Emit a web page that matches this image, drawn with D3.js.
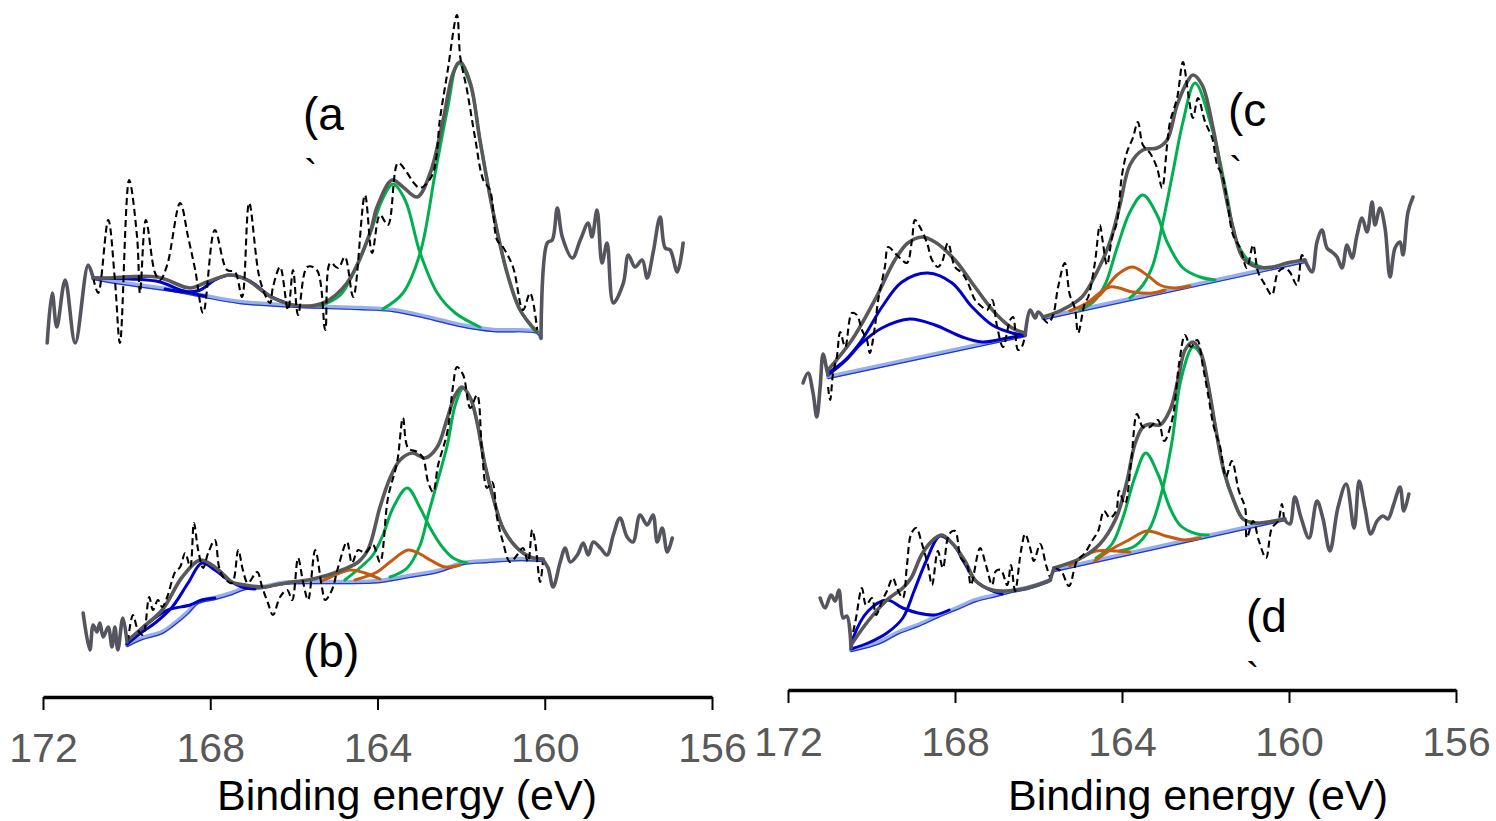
<!DOCTYPE html>
<html><head><meta charset="utf-8">
<script src="https://cdn.jsdelivr.net/npm/d3@7"></script>
<style>body{margin:0;background:#fff}svg{display:block}</style>
</head><body><svg id="chart" width="1496" height="821"></svg>
<script>
// ---------- axis / labels ----------
const tickValues = [172, 168, 164, 160, 156];
const axisTitle = "Binding energy (eV)";
const panelLabels = ["(a", "(b)", "(c", "(d"];

// ---------- spectrum (a) : [binding energy eV, intensity a.u.] ----------
const aEdgeLeft = [[171.90,357],[171.78,407],[171.67,373],[171.47,420],[171.23,357],[170.92,435],[170.80,422]];
const aRaw = [[170.80,422],[170.68,407],[170.44,480],[170.28,420],[170.16,357],[169.94,520],[169.75,463],[169.68,407],[169.54,480],[169.32,427],[169.20,420],[169.03,435],[168.72,497],[168.53,463],[168.36,430],[168.17,387],[167.89,470],[167.60,430],[167.41,428],[167.24,403],[167.07,497],[166.81,420],[166.57,397],[166.50,413],[166.33,433],[166.14,390],[166.02,430],[165.90,385],[165.68,433],[165.45,430],[165.25,370],[165.13,437],[164.94,432],[164.78,443],[164.58,403],[164.30,505],[164.13,447],[163.94,485],[163.75,475],[163.51,537],[163.29,527],[163.15,518],[162.98,512],[162.69,525],[162.50,583],[162.33,627],[162.10,685],[162.02,643],[161.86,610],[161.67,563],[161.47,520],[161.31,510],[161.14,460],[161.00,453],[160.76,433],[160.52,390],[160.35,407],[160.18,370]];
const aBackground = [[170.80,422],[170.09,417],[168.89,410],[168.24,405],[167.29,398],[165.85,394],[164.42,392],[163.63,390],[162.81,383],[162.02,375],[161.23,370],[160.18,368],[160.09,362]];
const aEnvelope = [[170.80,422],[170.47,422],[169.27,423],[168.48,412],[168.08,418],[167.53,425],[167.12,420],[166.50,402],[165.85,394],[165.30,397],[164.73,417],[164.18,467],[164.01,493],[163.65,520],[163.39,513],[163.05,503],[162.74,527],[162.43,580],[162.19,627],[162.02,638],[161.78,617],[161.55,560],[161.23,487],[160.90,427],[160.59,390],[160.18,368]];
const aGreen1 = [[165.37,394],[164.89,405],[164.54,430],[164.18,466],[163.89,500],[163.63,516],[163.34,500],[162.98,447],[162.57,407],[162.14,387],[161.55,373]];
const aGreen2 = [[163.87,391],[163.39,407],[162.98,447],[162.62,527],[162.33,590],[162.07,637],[161.78,615],[161.55,560],[161.23,487],[160.90,427],[160.59,390],[160.23,369]];
const aBlue1 = [[170.80,422],[169.92,421],[169.20,418],[168.72,410],[168.36,406],[168.12,404]];
const aBlue2 = [[169.08,411],[168.60,408],[168.24,410],[167.89,420],[167.53,425],[167.05,419],[166.57,404],[166.09,396]];
const aEdgeRight = [[160.09,362],[159.94,457],[159.82,460],[159.70,492],[159.58,463],[159.34,442],[159.15,460],[158.96,477],[158.87,463],[158.75,490],[158.63,437],[158.51,457],[158.36,397],[158.12,417],[158.00,445],[157.84,433],[157.67,440],[157.55,422],[157.41,447],[157.24,483],[157.12,452],[157.00,450],[156.83,428],[156.69,457]];

// ---------- spectrum (b) ----------
const bEdgeLeft = [[171.04,87],[170.88,50],[170.80,75],[170.71,68],[170.64,77],[170.56,63],[170.44,73],[170.35,53],[170.28,73],[170.21,50],[170.09,82],[169.99,58]];
const bRaw = [[169.97,58],[169.85,85],[169.73,70],[169.61,65],[169.46,103],[169.37,90],[169.25,100],[169.15,93],[169.03,103],[168.91,120],[168.84,128],[168.72,133],[168.60,147],[168.48,133],[168.39,177],[168.29,150],[168.17,132],[168.05,147],[167.89,160],[167.79,133],[167.69,123],[167.48,117],[167.33,150],[167.22,130],[167.10,117],[166.88,128],[166.76,113],[166.62,97],[166.50,85],[166.33,103],[166.16,110],[166.04,100],[165.90,142],[165.78,118],[165.66,100],[165.49,150],[165.33,113],[165.25,100],[165.09,110],[164.94,133],[164.73,158],[164.61,137],[164.46,150],[164.30,147],[164.11,155],[163.94,138],[163.75,202],[163.53,238],[163.39,282],[163.27,252],[163.05,248],[162.91,242],[162.79,218],[162.67,208],[162.55,235],[162.33,268],[162.19,315],[162.10,333],[161.95,325],[161.78,292],[161.62,305],[161.50,248],[161.38,212],[161.26,218],[161.14,182],[161.00,158],[160.83,138],[160.66,145],[160.52,152],[160.40,138],[160.30,170],[160.23,158],[160.11,118],[160.04,140]];
const bBackground = [[169.99,55],[169.63,62],[169.15,68],[168.84,77],[168.53,88],[168.29,98],[167.89,102],[167.48,107],[167.17,112],[166.76,113],[166.28,117],[165.66,118],[164.85,118],[163.94,119],[163.39,123],[162.57,129],[161.95,137],[161.38,139],[160.59,141],[160.04,140]];
const bEnvelope = [[169.99,59],[169.63,72],[169.15,90],[168.67,123],[168.24,140],[167.96,135],[167.72,127],[167.48,118],[167.17,115],[166.69,113],[166.45,115],[166.04,118],[165.66,120],[165.18,125],[164.85,130],[164.46,138],[164.22,151],[163.94,193],[163.70,222],[163.46,240],[163.17,247],[162.86,242],[162.57,253],[162.33,282],[162.14,305],[161.98,313],[161.78,302],[161.62,278],[161.43,235],[161.23,202],[161.00,172],[160.66,152],[160.35,143],[160.04,141]];
const bGreen1 = [[164.78,120],[164.37,134],[164.11,145],[163.87,165],[163.63,192],[163.29,212],[162.98,192],[162.74,172],[162.45,153],[162.19,142],[161.86,137]];
const bGreen2 = [[163.70,123],[163.29,132],[162.98,155],[162.79,185],[162.57,218],[162.33,255],[162.14,295],[161.95,312],[161.78,302],[161.62,278],[161.43,235],[161.23,202],[161.00,172],[160.66,152],[160.35,143]];
const bOrange1 = [[164.54,120],[164.01,128],[163.70,138],[163.27,150],[162.98,146],[162.74,140],[162.38,133],[162.02,135]];
const bOrange2 = [[165.33,119],[165.01,125],[164.66,130],[164.30,127],[163.94,121]];
const bBlue1 = [[169.99,56],[169.63,68],[169.32,77],[168.91,93],[168.53,117],[168.20,137],[167.89,130],[167.57,120],[167.24,113],[166.93,111]];
const bBlue2 = [[169.99,56],[169.49,77],[169.01,90],[168.48,95],[168.20,100],[167.89,102]];
const bEdgeRight = [[160.04,140],[159.92,132],[159.80,113],[159.63,138],[159.51,152],[159.39,138],[159.22,145],[159.08,157],[158.96,145],[158.84,158],[158.67,152],[158.51,145],[158.36,165],[158.20,182],[158.03,163],[157.89,158],[157.72,185],[157.55,175],[157.41,185],[157.31,158],[157.19,172],[157.07,148],[156.95,162]];

// ---------- spectrum (c) ----------
const cEdgeLeft = [[171.64,317],[171.52,327],[171.40,307],[171.31,283],[171.23,313],[171.16,346],[171.07,330],[171.04,325]];
const cRaw1 = [[171.04,313],[170.99,300],[170.92,327],[170.83,343],[170.75,368],[170.63,353],[170.47,387],[170.35,385],[170.23,370],[170.11,360],[170.04,347],[169.92,373],[169.84,400],[169.68,433],[169.60,453],[169.44,447],[169.27,440],[169.15,437],[169.03,460],[168.96,480],[168.84,473],[168.67,457],[168.55,440],[168.41,433],[168.31,438],[168.17,457],[168.00,433],[167.83,427],[167.69,417],[167.52,400],[167.35,393],[167.23,390],[167.11,400],[166.99,373],[166.85,353],[166.68,380],[166.61,383],[166.49,350],[166.40,353],[166.32,365]];
const cBackground1 = [[171.04,323],[166.32,365]];
const cEnvelope1 = [[171.04,330],[170.47,360],[169.92,400],[169.44,440],[169.13,457],[168.79,463],[168.48,458],[168.00,440],[167.52,413],[167.04,387],[166.63,372],[166.32,367]];
const cBlue1 = [[171.04,327],[170.63,340],[170.23,360],[169.75,393],[169.27,418],[168.65,427],[168.07,417],[167.59,393],[167.11,375],[166.63,367],[166.32,365]];
const cBlue2 = [[171.04,325],[170.63,339],[170.23,357],[169.75,372],[169.08,381],[168.48,375],[167.83,363],[167.35,358],[166.73,362],[166.32,365]];
const cMiddle = [[166.32,365],[166.20,390],[166.08,382],[166.01,388],[165.89,383]];
const cRaw2 = [[165.89,382],[165.77,377],[165.65,385],[165.53,413],[165.37,437],[165.25,405],[165.13,392],[165.05,367],[164.89,397],[164.81,403],[164.65,437],[164.53,475],[164.46,458],[164.36,435],[164.24,462],[164.12,478],[164.00,525],[163.88,548],[163.74,562],[163.62,578],[163.50,555],[163.33,547],[163.16,532],[163.04,512],[162.92,555],[162.85,578],[162.68,602],[162.54,638],[162.42,608],[162.30,582],[162.18,602],[162.01,578],[161.84,562],[161.72,535],[161.60,525],[161.49,502],[161.34,465],[161.17,452],[161.01,432],[160.86,455],[160.74,428],[160.57,415],[160.41,405],[160.26,428],[160.10,432],[159.98,428],[159.81,415],[159.69,445],[159.62,440]];
const cBackground2 = [[165.89,382],[159.62,439]];
const cEnvelope2 = [[165.89,383],[165.44,390],[164.96,403],[164.60,428],[164.29,458],[164.05,495],[163.81,535],[163.50,550],[163.16,552],[162.92,560],[162.68,595],[162.44,618],[162.30,625],[162.08,615],[161.82,572],[161.58,518],[161.34,472],[161.10,442],[160.77,433],[160.38,433],[160.05,437],[159.62,440]];
const cGreen1 = [[165.01,390],[164.69,398],[164.41,415],[164.12,452],[163.81,488],[163.50,505],[163.16,485],[162.92,458],[162.54,432],[162.13,423],[161.77,420]];
const cGreen2 = [[163.81,402],[163.50,415],[163.26,435],[163.02,478],[162.78,528],[162.54,578],[162.25,617],[161.82,568],[161.49,505],[161.25,458],[160.93,438],[160.57,432]];
const cOrange1 = [[165.01,392],[164.53,405],[164.12,425],[163.76,433],[163.40,425],[163.09,415],[162.73,412],[162.37,414]];
const cOrange2 = [[165.25,389],[164.84,397],[164.29,413],[163.74,408],[163.26,407],[162.97,410]];
const cEdgeRight = [[159.62,440],[159.45,428],[159.33,458],[159.21,470],[159.09,452],[158.97,448],[158.85,443],[158.73,432],[158.61,455],[158.49,442],[158.37,465],[158.25,482],[158.13,468],[158.01,498],[157.94,475],[157.82,492],[157.70,472],[157.58,423],[157.46,452],[157.34,458],[157.27,445],[157.15,488],[157.03,503]];

// ---------- spectrum (d) ----------
const dEdgeLeft = [[171.23,102],[171.11,92],[170.97,105],[170.87,99],[170.78,110],[170.68,82],[170.59,84],[170.49,52]];
const dRaw1 = [[170.44,68],[170.37,82],[170.23,112],[170.13,95],[169.99,102],[169.89,85],[169.75,99],[169.63,109],[169.49,122],[169.39,112],[169.25,102],[169.15,135],[169.05,166],[168.93,172],[168.79,156],[168.65,135],[168.55,115],[168.41,149],[168.29,132],[168.14,166],[168.00,169],[167.86,142],[167.71,135],[167.62,115],[167.40,152],[167.26,135],[167.11,115],[167.02,129],[166.90,130],[166.75,115],[166.66,135],[166.56,109],[166.42,149],[166.32,166],[166.20,152],[166.11,139],[165.96,156],[165.82,135],[165.72,122]];
const dBackground1 = [[170.49,50],[169.80,58],[169.34,68],[168.89,75],[168.41,84],[167.95,92],[167.50,100],[167.02,105],[166.66,109],[166.28,112],[165.77,119],[165.72,120]];
const dEnvelope1 = [[170.49,55],[170.08,79],[169.63,100],[169.25,112],[169.05,122],[168.79,146],[168.50,161],[168.31,165],[168.05,156],[167.76,139],[167.50,119],[167.11,110],[166.75,109],[166.28,112],[165.77,119],[165.72,120]];
const dBlue1 = [[170.49,51],[170.08,57],[169.63,67],[169.25,82],[168.98,109],[168.69,139],[168.36,164],[168.05,156],[167.76,136],[167.50,119],[167.11,109],[166.87,106]];
const dBlue2 = [[170.49,52],[170.44,62],[170.08,89],[169.63,100],[169.25,92],[168.89,87],[168.50,85],[168.14,90]];
const dMiddle = [[165.72,120],[165.63,132]];
const dRaw2 = [[165.63,132],[165.46,129],[165.27,114],[165.08,139],[164.89,147],[164.72,159],[164.57,169],[164.43,189],[164.29,182],[164.14,189],[164.07,209],[163.93,196],[163.78,239],[163.64,286],[163.50,273],[163.33,273],[163.14,280],[162.99,259],[162.80,280],[162.63,337],[162.49,365],[162.35,353],[162.20,360],[162.06,333],[161.94,306],[161.80,273],[161.65,253],[161.51,223],[161.37,239],[161.20,209],[161.05,192],[161.01,162],[160.86,179],[160.72,159],[160.55,142],[160.41,172],[160.26,179],[160.17,196],[160.12,181]];
const dBackground2 = [[165.63,130],[160.10,181]];
const dEnvelope2 = [[165.63,132],[164.98,142],[164.53,156],[164.14,182],[163.88,219],[163.69,256],[163.50,273],[163.33,276],[163.09,275],[162.85,290],[162.66,320],[162.49,350],[162.30,358],[162.11,347],[161.94,316],[161.75,270],[161.56,229],[161.32,199],[161.10,181],[160.81,177],[160.36,179],[160.10,181]];
const dGreen1 = [[164.62,142],[164.24,156],[163.98,182],[163.69,223],[163.43,247],[163.14,226],[162.85,192],[162.59,174],[162.20,166],[161.94,165]];
const dGreen2 = [[164.07,149],[163.69,154],[163.33,172],[163.04,209],[162.80,259],[162.59,320],[162.30,353],[162.11,345],[161.94,315],[161.75,270],[161.56,229],[161.32,199],[161.10,181],[160.81,177]];
const dOrange1 = [[164.65,139],[164.24,151],[163.88,159],[163.40,169],[162.95,164],[162.49,160],[162.13,162]];
const dOrange2 = [[165.25,134],[164.98,142],[164.62,149],[164.14,149],[163.81,148]];
const dEdgeRight = [[160.12,181],[159.98,176],[159.86,203],[159.71,182],[159.52,162],[159.33,199],[159.19,182],[159.02,149],[158.83,192],[158.63,216],[158.44,172],[158.32,219],[158.18,192],[158.04,166],[157.89,179],[157.75,184],[157.63,181],[157.49,196],[157.34,213],[157.25,189],[157.13,206]];

// ---------- drawing ----------
const W = 1496, H = 821;
const FONT = "'Liberation Sans', Arial, Helvetica, sans-serif";
const svg = d3.select("#chart");
svg.append("rect").attr("width", W).attr("height", H).attr("fill", "#fff");

const yScale = d3.scaleLinear().domain([0, 700]).range([700, 0]);
const xLeft = d3.scaleLinear().domain([172, 156]).range([43, 712]);
const xRight = d3.scaleLinear().domain([172, 156]).range([788, 1456]);

const colors = { envelope: "#595959", edge: "#55555f", green: "#00b050", orange: "#c55a11", blue: "#0000cc", bgBand: "#99b0e4", bgLine: "#2236d0", raw: "#000" };

const spectra = [
  { x: xLeft, edges: [aEdgeLeft, aEdgeRight], raw: [aRaw], bg: [aBackground], env: [aEnvelope], green: [aGreen1, aGreen2], orange: [], blue: [aBlue1, aBlue2] },
  { x: xLeft, edges: [bEdgeLeft, bEdgeRight], raw: [bRaw], bg: [bBackground], env: [bEnvelope], green: [bGreen1, bGreen2], orange: [bOrange1, bOrange2], blue: [bBlue1, bBlue2] },
  { x: xRight, edges: [cEdgeLeft, cMiddle, cEdgeRight], raw: [cRaw1, cRaw2], bg: [cBackground1, cBackground2], env: [cEnvelope1, cEnvelope2], green: [cGreen1, cGreen2], orange: [cOrange1, cOrange2], blue: [cBlue1, cBlue2] },
  { x: xRight, edges: [dEdgeLeft, dMiddle, dEdgeRight], raw: [dRaw1, dRaw2], bg: [dBackground1, dBackground2], env: [dEnvelope1, dEnvelope2], green: [dGreen1, dGreen2], orange: [dOrange1, dOrange2], blue: [dBlue1, dBlue2] }
];

spectra.forEach(s => {
  const g = svg.append("g");
  const smooth = d3.line().x(d => s.x(d[0])).y(d => yScale(d[1])).curve(d3.curveCatmullRom.alpha(0.5));
  const straight = d3.line().x(d => s.x(d[0])).y(d => yScale(d[1]));
  const path = (data, gen, color, w, extra) => {
    const p = g.append("path").attr("d", gen(data)).attr("fill", "none").attr("stroke", color)
      .attr("stroke-width", w).attr("stroke-linejoin", "round").attr("stroke-linecap", "round");
    if (extra) extra(p);
    return p;
  };
  s.bg.forEach(b => {
    const gen = b.length > 2 ? smooth : straight;
    path(b, gen, colors.bgBand, 4.5);
    path(b, gen, colors.bgLine, 1.2, p => p.attr("transform", "translate(0,1.6)"));
  });
  s.green.forEach(c => path(c, smooth, colors.green, 3));
  s.orange.forEach(c => path(c, smooth, colors.orange, 3));
  s.blue.forEach(c => path(c, smooth, colors.blue, 3));
  s.env.forEach(c => path(c, smooth, colors.envelope, 3.6));
  s.raw.forEach(c => path(c, smooth, colors.raw, 2.1, p => p.attr("stroke-dasharray", "7,4").attr("stroke-linecap", "butt")));
  s.edges.forEach(c => path(c, smooth, colors.edge, 3.6));
});

// axes
function drawAxis(x, y, pad) {
  const ax = d3.axisBottom(x).tickValues(tickValues).tickSize(13).tickSizeOuter(0).tickPadding(pad).tickFormat(d3.format("d"));
  const g = svg.append("g").attr("transform", `translate(0,${y})`).call(ax);
  g.select(".domain").attr("stroke", "#000").attr("stroke-width", 3.5);
  g.selectAll(".tick line").attr("stroke", "#000").attr("stroke-width", 2);
  g.selectAll(".tick text").attr("fill", "#595959").style("font-family", FONT).style("font-size", "41px");
}
drawAxis(xLeft, 697, 23);
drawAxis(xRight, 690, 24);

svg.append("text").attr("x", 407).attr("y", 810).attr("text-anchor", "middle")
  .style("font-family", FONT).style("font-size", "43px").attr("fill", "#000").text(axisTitle);
svg.append("text").attr("x", 1198).attr("y", 810).attr("text-anchor", "middle")
  .style("font-family", FONT).style("font-size", "43px").attr("fill", "#000").text(axisTitle);

// panel labels
const labelPos = [[303, 130], [303, 667], [1228, 126], [1246, 632]];
panelLabels.forEach((t, i) => {
  svg.append("text").attr("x", labelPos[i][0]).attr("y", labelPos[i][1])
    .style("font-family", FONT).style("font-size", "46px").attr("fill", "#000").text(t);
});
const markPos = [[304, 188], [1229, 185], [1246, 691]];
markPos.forEach(p => {
  svg.append("text").attr("x", p[0]).attr("y", p[1]).style("font-family", FONT).style("font-size", "40px").attr("fill", "#000").text("`");
});
</script>
</body></html>
